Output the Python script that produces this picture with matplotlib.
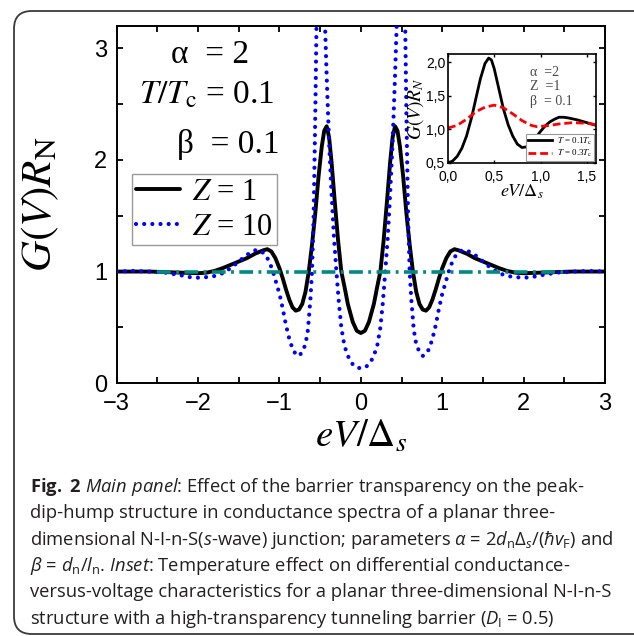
import matplotlib
matplotlib.use('Agg')
import matplotlib.pyplot as plt
import numpy as np
from matplotlib.patches import FancyBboxPatch
from matplotlib.ticker import MultipleLocator, FuncFormatter
from matplotlib.font_manager import FontProperties

plt.rcParams['mathtext.fontset'] = 'custom'
plt.rcParams['mathtext.rm'] = 'Open Sans'
plt.rcParams['mathtext.it'] = 'Open Sans:italic'
plt.rcParams['mathtext.bf'] = 'Open Sans:bold'

# ---------------- data (main panel, x >= 0 half; curves are symmetric) ----------------
x_z1 = [0, 0.05, 0.1, 0.13, 0.16, 0.2, 0.24, 0.28, 0.32, 0.36, 0.39, 0.42, 0.45, 0.48,
        0.52, 0.56, 0.6, 0.64, 0.68, 0.72, 0.76, 0.8, 0.84, 0.88, 0.92, 0.96, 1.0, 1.05,
        1.1, 1.15, 1.2, 1.3, 1.4, 1.5, 1.6, 1.7, 1.8, 1.9, 2.0, 2.2, 2.4, 2.6, 2.8, 3.0]
g_z1 = [0.45, 0.47, 0.55, 0.63, 0.71, 0.86, 1.0, 1.28, 1.62, 1.98, 2.2, 2.3, 2.26, 2.12,
        1.85, 1.52, 1.24, 1.0, 0.82, 0.71, 0.66, 0.65, 0.68, 0.75, 0.84, 0.94, 1.03, 1.12,
        1.18, 1.2, 1.19, 1.16, 1.12, 1.09, 1.06, 1.03, 1.005, 0.99, 0.985, 0.99, 0.995,
        1.0, 1.0, 1.0]

x_z10 = [0, 0.05, 0.1, 0.15, 0.2, 0.24, 0.27, 0.3, 0.33, 0.36, 0.39, 0.42, 0.44, 0.47,
         0.5, 0.52, 0.545, 0.56, 0.58, 0.6, 0.62, 0.65, 0.68, 0.72, 0.76, 0.8, 0.84, 0.88,
         0.92, 0.96, 1.0, 1.04, 1.08, 1.12, 1.17, 1.24, 1.3, 1.4, 1.5, 1.6, 1.7, 1.8, 1.9,
         2.0, 2.1, 2.2, 2.4, 2.6, 2.8, 3.0]
g_z10 = [0.135, 0.14, 0.17, 0.23, 0.33, 0.5, 0.72, 1.0, 1.3, 1.7, 2.15, 2.75, 3.2, 3.9,
         4.2, 4.0, 3.2, 2.4, 1.5, 1.0, 0.75, 0.48, 0.35, 0.28, 0.245, 0.26, 0.31, 0.4,
         0.52, 0.67, 0.8, 0.9, 1.0, 1.08, 1.15, 1.19, 1.19, 1.15, 1.09, 1.03, 0.985, 0.96,
         0.95, 0.945, 0.95, 0.965, 0.99, 1.0, 1.005, 1.0]

x_ref = [-2.5, 2.5]
g_ref = [1.0, 1.0]

# ---------------- data (inset) ----------------
x_t01 = [0, 0.05, 0.1, 0.15, 0.2, 0.22, 0.256, 0.3, 0.35, 0.4, 0.44, 0.47, 0.5, 0.55,
         0.6, 0.65, 0.7, 0.75, 0.8, 0.85, 0.9, 0.95, 1.0, 1.05, 1.1, 1.15, 1.2, 1.25,
         1.3, 1.4, 1.5, 1.6]
g_t01 = [0.5, 0.53, 0.6, 0.72, 0.9, 1.0, 1.18, 1.45, 1.75, 1.98, 2.06, 2.03, 1.9, 1.6,
         1.3, 1.07, 0.9, 0.78, 0.73, 0.74, 0.79, 0.88, 0.97, 1.05, 1.11, 1.15, 1.18, 1.18,
         1.17, 1.14, 1.1, 1.06]
x_t03 = [0, 0.1, 0.2, 0.3, 0.4, 0.5, 0.6, 0.7, 0.8, 0.9, 0.96, 1.05, 1.2, 1.35, 1.5, 1.6]
g_t03 = [1.02, 1.06, 1.15, 1.26, 1.33, 1.36, 1.32, 1.23, 1.13, 1.06, 1.04, 1.05, 1.08,
         1.1, 1.09, 1.07]

main_xticks = [-3, -2, -1, 0, 1, 2, 3]
main_yticks = [0, 1, 2, 3]

caption_lines = [
    r"$\bf{Fig.\ 2}$ $\it{Main\ panel}$: Effect of the barrier transparency on the peak-",
    "dip-hump structure in conductance spectra of a planar three-",
    r"dimensional N-I-n-S($\it{s}$-wave) junction; parameters $\it{α}$ = 2$\it{d}_{\rm n}\it{Δ}_{\it{s}}$/($\it{ħv}_{\rm F}$) and",
    r"$\it{β}$ = $\it{d}_{\rm n}$/$\it{l}_{\rm n}$. $\it{Inset}$: Temperature effect on differential conductance-",
    "versus-voltage characteristics for a planar three-dimensional N-I-n-S",
    r"structure with a high-transparency tunneling barrier ($\it{D}_{\rm I}$ = 0.5)",
]


def mirror(xh, yh):
    xh = np.asarray(xh, float)
    yh = np.asarray(yh, float)
    return np.concatenate([-xh[:0:-1], xh]), np.concatenate([yh[:0:-1], yh])


W, H = 634, 636
fig = plt.figure(figsize=(W / 100, H / 100), dpi=100)


def fx(px):
    return px / W


def fy(py):
    return 1 - py / H


# border
border = FancyBboxPatch((fx(14), fy(634)), fx(660) - fx(14), fy(11) - fy(634),
                        boxstyle="round,pad=0,rounding_size=0.028",
                        transform=fig.transFigure, facecolor='none',
                        edgecolor='#3a3a3a', linewidth=1.3, clip_on=False)
fig.add_artist(border)

# ---------------- main axes ----------------
ax = fig.add_axes([fx(116.7), fy(383.3), fx(605) - fx(116.7), fy(25.7) - fy(383.3)])
xa, ya = mirror(x_z1, g_z1)
ax.plot(xa, ya, color='black', lw=2.8, solid_capstyle='round', label=r"$Z$ = 1", zorder=3)
xb, yb = mirror(x_z10, g_z10)
ax.plot(xb, yb, color='#0000ff', lw=3.0, linestyle=(0, (0.01, 1.95)),
        dash_capstyle='round', label=r"$Z$ = 10", zorder=4)
ax.plot(x_ref, g_ref, color='#008a80', lw=2.6, linestyle=(0, (3.8, 1.5, 0.8, 1.5)), zorder=5)

ax.set_xlim(-3, 3)
ax.set_ylim(0, 3.2)
ax.set_xticks(main_xticks)
ax.set_yticks(main_yticks)
ax.xaxis.set_minor_locator(MultipleLocator(0.5))
ax.yaxis.set_minor_locator(MultipleLocator(0.5))
for which in ('major', 'minor'):
    ax.tick_params(axis='both', which=which, direction='in', length=4.5, width=1.3,
                   top=True, right=True)
ax.tick_params(axis='both', which='major', labelsize=17, pad=7)
for lab in ax.get_xticklabels() + ax.get_yticklabels():
    lab.set_fontfamily('Liberation Sans')
for s in ax.spines.values():
    s.set_linewidth(1.4)

ax.set_xlabel(r"$eV/\Delta_s$", fontsize=28, math_fontfamily='stix', labelpad=1)
ax.set_ylabel(r"$G(V)R_{\rm N}$", fontsize=31, math_fontfamily='stix', labelpad=24)

serif = 'Liberation Serif'
fig.text(fx(210), fy(55), "α  = 2", fontsize=24, family=serif, ha='center', va='center')
fig.text(fx(207), fy(95), r"$T/T_{\rm c}$ = 0.1", fontsize=24, family=serif,
         math_fontfamily='stix', ha='center', va='center')
fig.text(fx(228), fy(145), "β  = 0.1", fontsize=24, family=serif, ha='center', va='center')

leg_prop = FontProperties(family=serif, size=22, math_fontfamily='stix')
leg = ax.legend(loc='upper left', bbox_to_anchor=(fx(132), fy(174)),
                bbox_transform=fig.transFigure, prop=leg_prop, frameon=True,
                fancybox=False, edgecolor='#999999', framealpha=1,
                handlelength=1.45, handletextpad=0.4, borderpad=0.12,
                labelspacing=0.2, borderaxespad=0)
leg.get_frame().set_linewidth(1.0)

# ---------------- inset ----------------
ins = fig.add_axes([fx(448), fy(163), fx(596) - fx(448), fy(54) - fy(163)])
ins.plot(x_t01, g_t01, color='black', lw=2.0, label=r"$T$ = 0.1$T_{\rm c}$")
ins.plot(x_t03, g_t03, color='#ff0000', lw=2.0, linestyle=(0, (2.8, 1.4)),
         label=r"$T$ = 0.3$T_{\rm c}$")
ins.set_xlim(0, 1.6)
ins.set_ylim(0.5, 2.12)
ins.xaxis.set_major_locator(MultipleLocator(0.5))
ins.yaxis.set_major_locator(MultipleLocator(0.5))
comma = FuncFormatter(lambda v, p: f"{v:.1f}".replace('.', ','))
ins.xaxis.set_major_formatter(comma)
ins.yaxis.set_major_formatter(comma)
ins.tick_params(axis='both', which='major', direction='in', length=2.5, width=1.0,
                top=True, right=True, labelsize=10)
ins.tick_params(axis='x', pad=5)
ins.tick_params(axis='y', pad=2)
for lab in ins.get_xticklabels() + ins.get_yticklabels():
    lab.set_fontfamily('Liberation Sans')
for s in ins.spines.values():
    s.set_linewidth(1.2)
ins.set_xlabel(r"$eV/\Delta_s$", fontsize=13, math_fontfamily='stix', labelpad=-1)
ins.set_ylabel(r"$G(V)R_N$", fontsize=14, math_fontfamily='stix', labelpad=0)

gray = '#4a4a4a'
fig.text(fx(530), fy(72), "α  =2", fontsize=10, family=serif, color=gray, va='center')
fig.text(fx(530), fy(86), r"Z  =1", fontsize=10, family=serif, color=gray, va='center')
fig.text(fx(530), fy(102), "β  = 0.1", fontsize=10, family=serif, color=gray, va='center')

ileg_prop = FontProperties(family=serif, size=6.5, math_fontfamily='stix')
ileg = ins.legend(loc='lower right', prop=ileg_prop, frameon=True, fancybox=False,
                  edgecolor='#999999', framealpha=1, handlelength=2.6,
                  handletextpad=0.6, borderpad=0.2, labelspacing=0.15,
                  borderaxespad=0.2)
ileg.get_frame().set_linewidth(0.8)

# ---------------- caption ----------------
cap_y0 = 487
cap_dy = 26.3
for i, line in enumerate(caption_lines):
    fig.text(fx(30), fy(cap_y0 + i * cap_dy), line, fontsize=13.2, family='Open Sans',
             color='#231f20', ha='left', va='center')

fig.savefig('out.png', dpi=100)
